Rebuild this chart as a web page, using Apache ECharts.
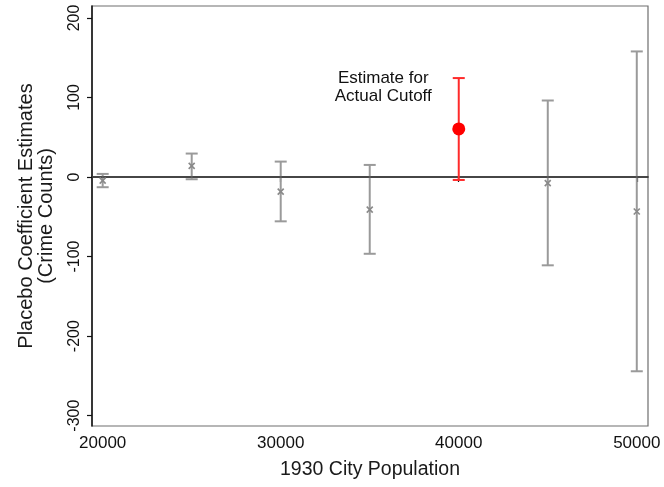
<!DOCTYPE html>
<html>
<head>
<meta charset="utf-8">
<script src="https://cdn.jsdelivr.net/npm/echarts@6/dist/echarts.min.js"></script>
<style>
  html, body { margin: 0; padding: 0; background: #ffffff; }
  #chart { width: 664px; height: 487px; }
</style>
</head>
<body>
<div id="chart"></div>
<script>
// Placebo cutoffs (1930 city population) and their coefficient estimates with 95% CIs
const placeboCutoffs = [20000, 25000, 30000, 35000, 45000, 50000];
const placeboEstimates = [-4.5, 14, -18.4, -41, -7.6, -43.4];
const placeboLower = [-12.8, -2.8, -55.7, -96.5, -111, -244.2];
const placeboUpper = [3.9, 29.5, 19.4, 15.2, 96.2, 157.9];

// Estimate at the actual cutoff
const actualCutoff = [40000];
const actualEstimate = [60.5];
const actualLower = [-3.7];
const actualUpper = [124.4];

const xTicks = [20000, 30000, 40000, 50000];
const yTicks = [-300, -200, -100, 0, 100, 200];

const FONT = '"Liberation Sans", Arial, Helvetica, sans-serif';
const GRAY = '#9a9a9a';
const RED = '#ff2a2a';

const barData = (xs, lo, hi) => xs.map((x, i) => [x, lo[i], hi[i]]);

function errorBar(color) {
  return function (params, api) {
    const x = api.value(0);
    const top = api.coord([x, api.value(2)]);
    const bot = api.coord([x, api.value(1)]);
    const w = 6;
    const st = { stroke: color, lineWidth: 2 };
    return {
      type: 'group',
      children: [
        { type: 'line', shape: { x1: top[0], y1: top[1], x2: bot[0], y2: bot[1] }, style: st },
        { type: 'line', shape: { x1: top[0] - w, y1: top[1], x2: top[0] + w, y2: top[1] }, style: st },
        { type: 'line', shape: { x1: bot[0] - w, y1: bot[1], x2: bot[0] + w, y2: bot[1] }, style: st }
      ]
    };
  };
}

function crossMarker(params, api) {
  const p = api.coord([api.value(0), api.value(1)]);
  const s = 3;
  const st = { stroke: '#8a8a8a', lineWidth: 1.6 };
  return {
    type: 'group',
    children: [
      { type: 'line', shape: { x1: p[0] - s, y1: p[1] - s, x2: p[0] + s, y2: p[1] + s }, style: st },
      { type: 'line', shape: { x1: p[0] - s, y1: p[1] + s, x2: p[0] + s, y2: p[1] - s }, style: st }
    ]
  };
}

const chart = echarts.init(document.getElementById('chart'), null, { renderer: 'canvas' });

chart.setOption({
  animation: false,
  backgroundColor: '#ffffff',
  textStyle: { fontFamily: FONT },
  grid: {
    left: 92, right: 16, top: 6, bottom: 61,
    show: true, borderColor: '#6e6e6e', borderWidth: 1.2, backgroundColor: '#ffffff'
  },
  xAxis: {
    type: 'value',
    min: 19400,
    max: 50630,
    name: '1930 City Population',
    nameLocation: 'middle',
    nameGap: 34,
    nameTextStyle: { fontSize: 19.5, color: '#1a1a1a', fontFamily: FONT },
    axisLine: { show: true, lineStyle: { color: '#111', width: 1.5 } },
    axisTick: { show: true, length: 5, customValues: xTicks, lineStyle: { color: '#111', width: 1.2 } },
    axisLabel: {
      customValues: xTicks,
      formatter: (v) => String(v),
      fontSize: 17, color: '#111', margin: 9, fontFamily: FONT, hideOverlap: false
    },
    splitLine: { show: false }
  },
  yAxis: {
    type: 'value',
    min: -313,
    max: 215,
    name: 'Placebo Coefficient Estimates\n(Crime Counts)',
    nameLocation: 'middle',
    nameGap: 36,
    nameTextStyle: { fontSize: 20, color: '#1a1a1a', lineHeight: 20, fontFamily: FONT },
    axisLine: { show: true, lineStyle: { color: '#111', width: 1.5 } },
    axisTick: { show: true, length: 5, customValues: yTicks, lineStyle: { color: '#111', width: 1.2 } },
    axisLabel: {
      customValues: yTicks,
      formatter: (v) => String(v),
      fontSize: 16, color: '#111', rotate: 90, margin: 9, fontFamily: FONT
    },
    splitLine: { show: false }
  },
  series: [
    {
      type: 'custom',
      name: 'placeboCI',
      renderItem: errorBar(GRAY),
      encode: { x: 0, y: [1, 2] },
      data: barData(placeboCutoffs, placeboLower, placeboUpper),
      z: 2,
      markLine: {
        silent: true,
        symbol: 'none',
        label: { show: false },
        lineStyle: { color: '#444', width: 1.5, type: 'solid' },
        data: [{ yAxis: 0 }],
        z: 3
      }
    },
    {
      type: 'custom',
      name: 'placebo',
      renderItem: crossMarker,
      encode: { x: 0, y: 1 },
      data: placeboCutoffs.map((x, i) => [x, placeboEstimates[i]]),
      z: 4
    },
    {
      type: 'custom',
      name: 'actualCI',
      renderItem: errorBar(RED),
      encode: { x: 0, y: [1, 2] },
      data: barData(actualCutoff, actualLower, actualUpper),
      z: 4
    },
    {
      type: 'scatter',
      name: 'actual',
      symbol: 'circle',
      symbolSize: 13,
      itemStyle: { color: '#ff0000', opacity: 1 },
      data: actualCutoff.map((x, i) => [x, actualEstimate[i]]),
      z: 5,
      label: {
        show: true,
        formatter: 'Estimate for\nActual Cutoff',
        position: [-69, -53],
        align: 'center',
        verticalAlign: 'top',
        fontSize: 17,
        lineHeight: 18,
        color: '#111',
        fontFamily: FONT
      }
    }
  ]
});
</script>
</body>
</html>
